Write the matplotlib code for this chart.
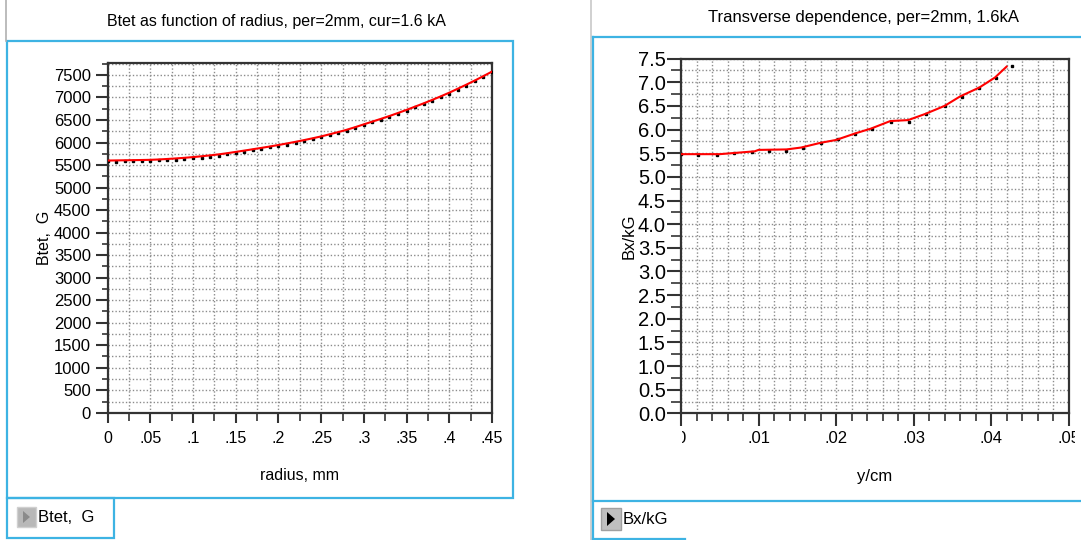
import matplotlib
matplotlib.use("Agg")
import matplotlib.pyplot as plt
from matplotlib.patches import Rectangle, Polygon
from matplotlib.lines import Line2D
from matplotlib.transforms import Bbox
from matplotlib.ticker import MultipleLocator, FixedLocator, FormatStrFormatter

plt.rcParams['font.family'] = ['Liberation Sans', 'DejaVu Sans']

# ---------------- data ----------------
radius = [0.00, 0.01, 0.02, 0.03, 0.04, 0.05, 0.06, 0.07, 0.08, 0.09,
          0.10, 0.11, 0.12, 0.13, 0.14, 0.15, 0.16, 0.17, 0.18, 0.19,
          0.20, 0.21, 0.22, 0.23, 0.24, 0.25, 0.26, 0.27, 0.28, 0.29,
          0.30, 0.31, 0.32, 0.33, 0.34, 0.35, 0.36, 0.37, 0.38, 0.39,
          0.40, 0.41, 0.42, 0.43, 0.44, 0.45]
btet_fit = [5600, 5603, 5606, 5609, 5612, 5616, 5624, 5635, 5647, 5661,
            5677, 5695, 5715, 5737, 5763, 5792, 5821, 5851, 5881, 5912,
            5945, 5980, 6016, 6054, 6094, 6136, 6183, 6232, 6284, 6342,
            6404, 6465, 6526, 6589, 6656, 6725, 6797, 6870, 6946, 7025,
            7107, 7195, 7285, 7378, 7475, 7575]
btet_pts = [5590, 5560, 5580, 5590, 5590, 5595, 5605, 5610, 5620, 5635,
            5650, 5665, 5685, 5705, 5735, 5770, 5795, 5825, 5855, 5890,
            5920, 5955, 5995, 6035, 6075, 6115, 6160, 6210, 6265, 6320,
            6385, 6445, 6505, 6570, 6635, 6705, 6780, 6850, 6925, 7005,
            7085, 7175, 7265, 7360, 7455, 7560]

y_pts = [0.0000, 0.00225, 0.0047, 0.0068, 0.0091, 0.0113, 0.0136, 0.0158,
         0.0181, 0.0202, 0.0225, 0.0247, 0.0271, 0.0294, 0.0316, 0.0340,
         0.0362, 0.0384, 0.0406, 0.0427]
bx_pts = [5.48, 5.46, 5.47, 5.50, 5.52, 5.55, 5.55, 5.62, 5.72, 5.79,
          5.91, 6.01, 6.17, 6.17, 6.33, 6.49, 6.69, 6.88, 7.10, 7.35]
y_fit = [0.0000, 0.0050, 0.0080, 0.0095, 0.0100, 0.0136, 0.0155, 0.0180,
         0.0200, 0.0225, 0.0245, 0.0270, 0.0293, 0.0315, 0.0340, 0.0360,
         0.0385, 0.0405, 0.0420]
bx_fit = [5.48, 5.48, 5.52, 5.54, 5.57, 5.58, 5.62, 5.72, 5.78, 5.92,
          6.02, 6.18, 6.20, 6.33, 6.50, 6.70, 6.89, 7.10, 7.33]

left_xticks = [0, 0.05, 0.1, 0.15, 0.2, 0.25, 0.3, 0.35, 0.4, 0.45]
left_xlabels = ['0', '.05', '.1', '.15', '.2', '.25', '.3', '.35', '.4', '.45']
right_xticks = [0, 0.01, 0.02, 0.03, 0.04, 0.05]
right_xlabels = ['0', '.01', '.02', '.03', '.04', '.05']

W, H = 1081, 540
fig = plt.figure(figsize=(W / 100, H / 100), dpi=100)
fig.patch.set_facecolor('white')

BLUE = '#3db3e3'
SPINE = '#333333'
GRID = '#8c8c8c'


def fx(x):
    return x / W


def fy(y):
    return 1 - y / H


def frect(x0, y0, x1, y1, **kw):
    r = Rectangle((fx(x0), fy(y1)), fx(x1) - fx(x0), fy(y0) - fy(y1),
                  transform=fig.transFigure, fill=False, **kw)
    fig.patches.append(r)


def fline(xs, ys, **kw):
    fig.lines.append(Line2D([fx(v) for v in xs], [fy(v) for v in ys],
                            transform=fig.transFigure, **kw))


def style_axes(ax):
    for s in ax.spines.values():
        s.set_color(SPINE)
        s.set_linewidth(1.6)
    ax.tick_params(which='both', direction='out', color=SPINE)
    ax.grid(which='both', color=GRID, linestyle=(0, (1, 1.5)), linewidth=1.0)
    ax.set_axisbelow(True)


# ---------------- left chart ----------------
axL = fig.add_axes([fx(107.6), fy(412.8), fx(492) - fx(107.6), fy(62.8) - fy(412.8)])
axL.set_xlim(0, 0.45)
axL.set_ylim(0, 7770)
axL.xaxis.set_major_locator(FixedLocator(left_xticks))
axL.set_xticklabels(left_xlabels)
axL.xaxis.set_minor_locator(MultipleLocator(0.025))
axL.yaxis.set_major_locator(MultipleLocator(500))
axL.yaxis.set_minor_locator(MultipleLocator(250))
style_axes(axL)
axL.tick_params(axis='y', which='major', length=9, width=1.5, labelsize=12, pad=3)
axL.tick_params(axis='y', which='minor', length=4, width=1.2)
axL.tick_params(axis='x', which='major', length=7, width=1.5, labelsize=11.5, pad=6)
axL.tick_params(axis='x', which='minor', length=6, width=1.2)
axL.plot(radius, btet_pts, linestyle='none', marker='s', markersize=1.8,
         color='black', zorder=3)
axL.plot(radius, btet_fit, color='#ff0000', linewidth=1.5, zorder=4)
axL.set_xlabel('radius, mm', fontsize=11.5, labelpad=16)
axL.set_ylabel('Btet,  G', fontsize=11.5, labelpad=1)
fig.text(fx(276), fy(21.7), 'Btet as function of radius, per=2mm, cur=1.6 kA',
         ha='center', va='center', fontsize=11.5)

# ---------------- right chart ----------------
axR = fig.add_axes([fx(681), fy(413.4), fx(1068.6) - fx(681), fy(58.6) - fy(413.4)])
axR.set_xlim(0, 0.05)
axR.set_ylim(0, 7.5)
axR.xaxis.set_major_locator(FixedLocator(right_xticks))
axR.set_xticklabels(right_xlabels)
axR.xaxis.set_minor_locator(MultipleLocator(0.002))
axR.yaxis.set_major_locator(MultipleLocator(0.5))
axR.yaxis.set_minor_locator(MultipleLocator(0.25))
axR.yaxis.set_major_formatter(FormatStrFormatter('%.1f'))
style_axes(axR)
axR.tick_params(axis='y', which='major', length=10, width=1.5, labelsize=14.5, pad=1)
axR.tick_params(axis='y', which='minor', length=7, width=1.2)
axR.tick_params(axis='x', which='major', length=9, width=1.5, labelsize=12, pad=4)
axR.tick_params(axis='x', which='minor', length=6, width=1.2)
axR.plot(y_pts, bx_pts, linestyle='none', marker='s', markersize=1.8,
         color='black', zorder=3)
axR.plot(y_fit, bx_fit, color='#ff0000', linewidth=1.5, zorder=4)
axR.set_xlabel('y/cm', fontsize=12, labelpad=16)
axR.set_ylabel('Bx/kG', fontsize=12, labelpad=1)
fig.text(fx(863), fy(17.6), 'Transverse dependence, per=2mm, 1.6kA',
         ha='center', va='center', fontsize=12)

# clip outer right tick labels like the original
clip = Bbox([[681.5, 0], [1075, H]])
for lab in axR.get_xticklabels():
    lab.set_clip_box(clip)
    lab.set_clip_on(True)

# ---------------- frames ----------------
fline([6, 6], [0, 41], color='#b0b0b0', linewidth=1.2)
frect(7, 41, 513, 498, edgecolor=BLUE, linewidth=1.6)
frect(7, 498, 114, 538, edgecolor=BLUE, linewidth=1.6)

fline([591, 591], [0, 540], color='#c8c8c8', linewidth=1.2)
fline([593, 1081], [37, 37], color=BLUE, linewidth=1.6)
fline([593, 593], [37, 540], color=BLUE, linewidth=1.6)
fline([593, 1081], [501, 501], color=BLUE, linewidth=1.6)
fline([593, 685], [539, 539], color=BLUE, linewidth=1.6)

# legend buttons
fig.patches.append(Rectangle((fx(16.5), fy(527)), fx(36) - fx(16.5), fy(507) - fy(527),
                             transform=fig.transFigure, facecolor='#b8b8b8',
                             edgecolor='#d0d0d0', linewidth=1))
fig.patches.append(Polygon([(fx(23), fy(511)), (fx(23), fy(523)), (fx(30), fy(517))],
                           closed=True, transform=fig.transFigure,
                           facecolor='#8a8a8a', edgecolor='none'))
fig.text(fx(38), fy(517), 'Btet,  G', ha='left', va='center', fontsize=12)

fig.patches.append(Rectangle((fx(601), fy(530)), fx(621) - fx(601), fy(508) - fy(530),
                             transform=fig.transFigure, facecolor='#c0c0c0',
                             edgecolor='#a0a0a0', linewidth=1))
fig.patches.append(Polygon([(fx(607), fy(512)), (fx(607), fy(526)), (fx(615), fy(519))],
                           closed=True, transform=fig.transFigure,
                           facecolor='black', edgecolor='none'))
fig.text(fx(623), fy(519), 'Bx/kG', ha='left', va='center', fontsize=12)

fig.savefig('out.png', dpi=100, facecolor='white')
